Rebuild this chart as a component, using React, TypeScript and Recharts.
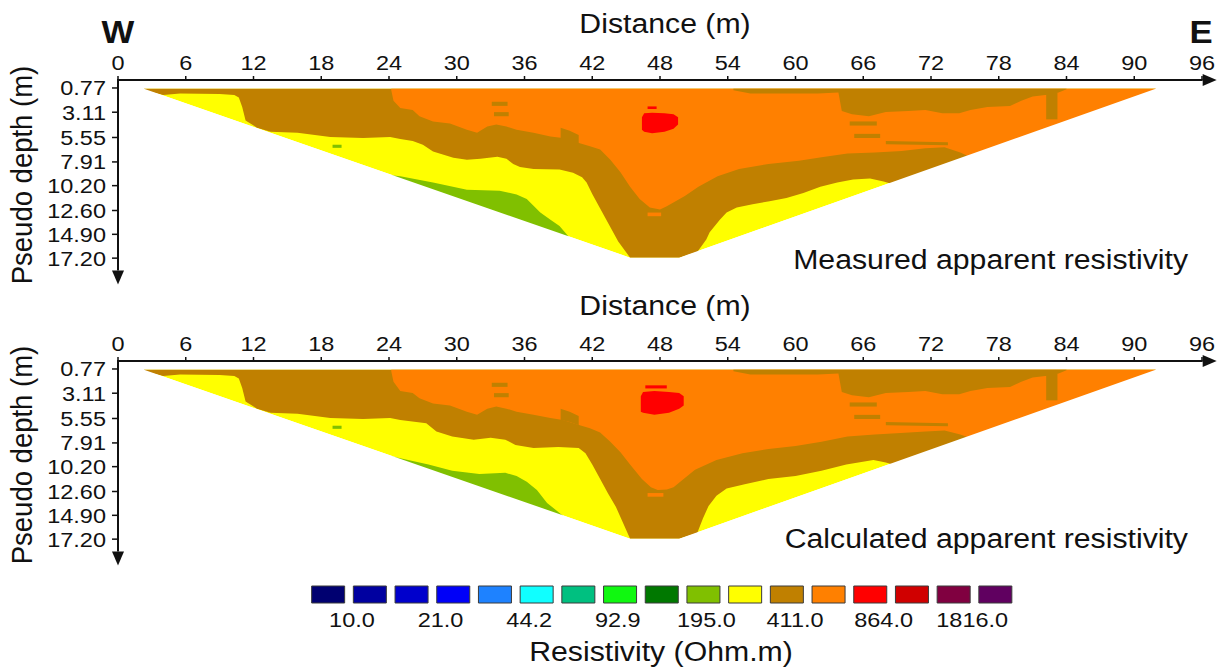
import * as React from 'react';
import { ComposedChart, Area, XAxis, YAxis, ReferenceLine, BarChart, Bar, Cell } from 'recharts';

const FONT = '"Liberation Sans", Arial, Helvetica, sans-serif';
const SX = 1.12; // the picture is a little wider than tall, so glyphs get stretched
const INK = '#111';

const YELLOW = '#ffff00';
const GREEN = '#80c000';
const BROWN = '#c08000';
const ORANGE = '#ff8000';
const RED = '#ff0000';

const distanceTicks = [0, 6, 12, 18, 24, 30, 36, 42, 48, 54, 60, 66, 72, 78, 84, 90, 96];
const depthTicks = [0.77, 3.11, 5.55, 7.91, 10.2, 12.6, 14.9, 17.2];

const legendColors = [
  '#000070', '#0000a0', '#0000cc', '#0000f8', '#1e82ff', '#10ffff', '#00c080', '#10f810', '#007800',
  '#80c000', '#ffff00', '#c08000', '#ff8000', '#ff0000', '#d00000', '#800040', '#600060',
];
const legendLabels = ['10.0', '21.0', '44.2', '92.9', '195.0', '411.0', '864.0', '1816.0'];
const legendTicks = [1, 3, 5, 7, 9, 11, 13, 15];

const SURFACE = 0.85;
const FLOOR = 19.6;

// outline of the pseudosection [x, top, bottom]
const outline = [[2.3, 0.85, 0.85], [45.35, 0.85, 17.15], [49.7, 0.85, 17.15], [91.9, 0.85, 0.85]];
const outsideMask = [
  [0.4, 0.85, 19.6], [2.3, 0.85, 19.6], [45.35, 17.15, 19.6], [49.7, 17.15, 19.6], [91.9, 0.85, 19.6], [95, 0.85, 19.6],
];

// measured: lower edge of brown (top of yellow), [x, depth]
const measuredBrown = [
  [2.3, 1.0], [4.0, 1.45], [5.5, 1.3], [9.0, 1.35], [10.3, 1.45], [10.7, 1.7], [11.0, 2.6], [11.3, 3.9],
  [12.3, 4.6], [13.5, 5.0], [15.9, 5.1], [18.8, 5.5], [21.7, 5.6], [24.1, 5.5], [25.0, 5.7], [26.1, 5.9],
  [27.0, 6.25], [27.9, 6.9], [29.7, 7.5], [30.9, 7.7], [32.1, 7.6], [33.6, 7.4], [34.4, 7.6], [35.0, 8.1],
  [35.6, 8.4], [36.8, 8.6], [39.1, 8.65], [40.3, 8.95], [41.1, 9.4], [41.5, 9.9], [42.0, 11.0], [42.7, 12.4],
  [43.5, 14.0], [44.3, 15.6], [45.35, 17.15], [49.7, 17.15], [51.3, 16.6], [52.1, 15.4], [52.4, 14.7],
  [53.3, 13.5], [53.9, 12.8], [54.8, 12.3], [56.2, 12.0], [57.7, 11.7], [59.2, 11.4], [60.7, 10.9],
  [62.2, 10.3], [63.7, 9.9], [65.1, 9.6], [66.6, 9.5], [67.8, 9.8], [68.4, 10.0], [68.5, 17.2], [91.9, 17.2],
];
// measured: lower edge of orange
const measuredOrange = [
  [24.2, 1.0], [24.4, 2.0], [25.0, 2.7], [26.1, 2.9], [26.7, 3.5], [27.9, 4.0], [29.4, 4.2], [30.9, 4.8],
  [31.8, 5.1], [32.7, 4.5], [33.5, 4.3], [34.4, 4.5], [35.3, 4.8], [36.8, 5.1], [38.3, 5.45], [39.4, 5.6],
  [40.9, 6.1], [41.8, 6.4], [42.7, 6.7], [43.6, 7.7], [44.5, 8.9], [45.35, 10.3], [46.2, 11.5], [47.1, 12.3],
  [48.0, 12.5], [48.6, 12.2], [50.2, 11.2], [51.4, 10.3], [53.1, 9.3], [55.0, 8.6], [57.6, 8.1], [60.3, 7.8],
  [62.3, 7.45], [64.6, 7.1], [67.0, 7.0], [69.4, 6.85], [71.5, 6.6], [73.2, 6.5], [74.6, 7.0], [75.4, 7.4],
  [75.6, 17.2], [91.9, 17.2],
];
// measured: upper edge of green
const measuredGreen = [
  [24.2, 9.2], [25.0, 9.3], [27.9, 9.9], [30.9, 10.6], [33.8, 10.7], [35.3, 11.05], [36.2, 11.5],
  [37.4, 12.8], [38.3, 13.5], [39.1, 14.1], [39.9, 15.1],
];
const measuredRed = [[46.4, 3.6, 4.8], [46.6, 3.2, 5.0], [47.3, 3.15, 5.15], [48.4, 3.2, 5.0], [49.2, 3.3, 4.7], [49.6, 3.6, 4.3]];
const measuredRedDash = [[46.9, 2.55, 2.8], [47.7, 2.55, 2.8]];
const measuredOrangeDash = [[46.9, 12.8, 13.15], [48.1, 12.8, 13.15]];

// calculated
const calculatedBrown = [
  [2.3, 1.0], [4.0, 1.45], [5.5, 1.3], [9.0, 1.35], [10.3, 1.45], [10.7, 1.7], [11.0, 2.6], [11.3, 3.9],
  [12.3, 4.6], [13.5, 5.0], [15.9, 5.1], [18.8, 5.5], [21.7, 5.6], [24.1, 5.5], [25.0, 5.7], [27.3, 6.0],
  [28.2, 6.8], [29.6, 7.3], [31.5, 7.6], [33.0, 7.4], [34.3, 7.6], [35.2, 8.1], [36.8, 8.4], [39.0, 8.3],
  [40.8, 8.4], [41.4, 8.9], [42.0, 10.0], [42.7, 11.4], [43.4, 12.8], [44.1, 14.1], [44.8, 15.8],
  [45.35, 17.15], [49.7, 17.15], [51.3, 16.6], [51.8, 15.2], [52.3, 14.0], [53.0, 13.0], [53.9, 12.3],
  [55.5, 11.9], [57.6, 11.4], [60.0, 11.1], [62.3, 10.6], [64.5, 10.0], [66.9, 9.55], [68.0, 9.8],
  [68.6, 10.0], [68.7, 17.2], [91.9, 17.2],
];
const calculatedOrange = [
  [24.2, 1.0], [24.4, 2.0], [25.0, 2.9], [26.1, 3.1], [26.7, 3.6], [27.9, 4.1], [29.4, 4.3], [30.9, 4.9],
  [31.8, 5.2], [32.7, 4.6], [33.5, 4.4], [34.4, 4.6], [35.3, 4.9], [36.8, 5.2], [38.3, 5.5], [39.4, 5.7],
  [40.9, 6.2], [41.8, 6.5], [42.7, 6.9], [43.6, 7.8], [44.5, 8.8], [45.35, 10.0], [46.4, 11.4], [47.2, 12.2],
  [47.8, 12.45], [48.6, 12.4], [49.2, 12.2], [50.2, 11.3], [51.1, 10.5], [53.0, 9.55], [55.3, 8.9],
  [57.6, 8.5], [60.0, 8.2], [62.3, 7.8], [64.6, 7.3], [67.0, 7.1], [69.3, 6.95], [71.5, 6.8], [73.2, 6.7],
  [74.6, 7.1], [75.4, 7.4], [75.6, 17.2], [91.9, 17.2],
];
const calculatedGreen = [
  [24.2, 9.2], [25.0, 9.4], [27.5, 10.0], [29.6, 10.6], [32.0, 10.9], [34.3, 10.8], [35.3, 11.1],
  [36.2, 11.65], [37.1, 12.45], [38.0, 13.7], [39.7, 15.2],
];
const calculatedRed = [[46.3, 3.4, 4.9], [46.5, 3.0, 5.0], [47.5, 2.9, 5.2], [48.8, 3.0, 5.0], [49.7, 3.1, 4.6], [50.1, 3.4, 4.3]];
const calculatedRedDash = [[46.7, 2.35, 2.65], [48.6, 2.35, 2.65]];
const calculatedOrangeDash = [[46.9, 12.75, 13.1], [48.3, 12.75, 13.1]];

// brown bits inside the orange, same in both sections [x, top, bottom]
const greenDot = [[19.0, 6.25, 6.55], [19.8, 6.25, 6.55]];
const topRightBrown = [
  [54.5, 0.85, 1.0], [56.0, 0.85, 1.3], [62.0, 0.85, 1.3], [63.8, 0.85, 1.2], [64.1, 0.85, 3.0],
  [65.0, 0.85, 3.3], [66.5, 0.85, 3.5], [68.0, 0.85, 3.1], [70.0, 0.85, 3.0], [71.5, 0.85, 2.9],
  [73.0, 0.85, 3.2], [74.5, 0.85, 3.2], [75.5, 0.85, 2.9], [77.0, 0.85, 2.6], [79.0, 0.85, 2.5],
  [80.0, 0.85, 2.0], [81.0, 0.85, 1.6], [82.5, 0.85, 1.4], [83.3, 0.85, 1.2], [84.0, 0.85, 0.9],
];
const brownStreaks = [
  [[82.2, 1.2, 3.8], [83.2, 1.2, 3.8]],
  [[64.8, 4.0, 4.4], [67.2, 4.0, 4.4]],
  [[65.2, 5.2, 5.6], [67.5, 5.2, 5.6]],
  [[33.1, 2.1, 2.5], [34.5, 2.1, 2.5]],
  [[33.3, 3.1, 3.5], [34.6, 3.1, 3.5]],
  [[39.2, 4.6, 5.7], [40.0, 4.9, 5.9], [40.8, 5.3, 6.2]],
  [[68.0, 5.9, 6.2], [73.5, 6.0, 6.3]],
];

const fromSurface = (edge: number[][]) => edge.map(([x, d]) => ({ x, band: [SURFACE, d] }));
const toFloor = (edge: number[][]) => edge.map(([x, d]) => ({ x, band: [d, FLOOR] }));
const patch = (pts: number[][]) => pts.map(([x, a, b]) => ({ x, band: [a, b] }));

function DistanceTick({ x, y, payload }: any) {
  return (
    <text transform={`translate(${x},${y - 6}) scale(${SX},1)`} textAnchor="middle" fontSize={21} fontFamily={FONT} fill={INK}>
      {payload.value}
    </text>
  );
}

function DepthTick({ x, y, payload }: any) {
  return (
    <text transform={`translate(${x},${y + 7.5}) scale(${SX},1)`} textAnchor="end" fontSize={21} fontFamily={FONT} fill={INK}>
      {Number(payload.value).toFixed(2)}
    </text>
  );
}

function LegendTick({ x, y, payload }: any) {
  return (
    <text transform={`translate(${x},${y - 6}) scale(${SX},1)`} textAnchor="middle" fontSize={21} fontFamily={FONT} fill={INK}>
      {legendLabels[(payload.value - 1) / 2]}
    </text>
  );
}

function Arrow(props: any) {
  const { x1, y1, x2, y2 } = props;
  const len = Math.hypot(x2 - x1, y2 - y1) || 1;
  const ux = (x2 - x1) / len;
  const uy = (y2 - y1) / len;
  const head = 14;
  const half = 6;
  const bx = x2 - ux * head;
  const by = y2 - uy * head;
  return (
    <g>
      <line x1={x1 - ux} y1={y1 - uy} x2={bx} y2={by} stroke={INK} strokeWidth={2} />
      <polygon points={`${x2},${y2} ${bx - uy * half},${by + ux * half} ${bx + uy * half},${by - ux * half}`} fill={INK} />
    </g>
  );
}

function Section({ top, brown, orange, green, red, redDash, orangeDash }: any) {
  const layers = [
    { fill: YELLOW, data: patch(outline) },
    { fill: GREEN, data: toFloor(green) },
    { fill: GREEN, data: patch(greenDot) },
    { fill: BROWN, data: fromSurface(brown) },
    { fill: ORANGE, data: fromSurface(orange) },
    { fill: BROWN, data: patch(topRightBrown) },
    ...brownStreaks.map((s) => ({ fill: BROWN, data: patch(s) })),
    { fill: ORANGE, data: patch(orangeDash) },
    { fill: RED, data: patch(red) },
    { fill: RED, data: patch(redDash) },
    { fill: '#ffffff', data: patch(outsideMask) },
  ];
  return (
    <div style={{ position: 'absolute', left: 0, top, width: 1221, height: 290 }}>
      <ComposedChart width={1221} height={290} margin={{ top: 40, right: 19, bottom: 7, left: 18 }}>
        <XAxis
          dataKey="x"
          type="number"
          orientation="top"
          domain={[0, 96]}
          ticks={distanceTicks}
          allowDataOverflow
          height={40}
          axisLine={false}
          tickSize={4}
          tickMargin={0}
          tickLine={{ stroke: INK, strokeWidth: 1.5 }}
          tick={<DistanceTick />}
        />
        <YAxis
          type="number"
          reversed
          domain={[0, FLOOR]}
          ticks={depthTicks}
          allowDataOverflow
          width={100}
          axisLine={false}
          tickSize={6}
          tickMargin={6}
          tickLine={{ stroke: INK, strokeWidth: 1.5 }}
          tick={<DepthTick />}
        />
        {layers.map((l, i) => (
          <Area
            key={i}
            data={l.data}
            dataKey="band"
            type="linear"
            stroke="none"
            fill={l.fill}
            fillOpacity={1}
            dot={false}
            activeDot={false}
            isAnimationActive={false}
          />
        ))}
        <ReferenceLine segment={[{ x: 0, y: 0 }, { x: 97.3, y: 0 }]} ifOverflow="visible" shape={Arrow} />
        <ReferenceLine segment={[{ x: 0, y: 0 }, { x: 0, y: 19.75 }]} ifOverflow="visible" shape={Arrow} />
      </ComposedChart>
    </div>
  );
}

function ColorScale() {
  const data = legendColors.map((c, i) => ({ key: i, v: 1 }));
  return (
    <div style={{ position: 'absolute', left: 0, top: 576, width: 1221, height: 93 }}>
      <BarChart width={1221} height={93} data={data} margin={{ top: 10, right: 204.45, bottom: 36, left: 307.65 }}>
        <XAxis xAxisId="cat" dataKey="key" type="category" hide />
        <XAxis
          xAxisId="num"
          type="number"
          domain={[0, 17]}
          ticks={legendTicks}
          height={30}
          axisLine={false}
          tickLine={false}
          tickSize={0}
          tickMargin={0}
          tick={<LegendTick />}
        />
        <YAxis hide domain={[0, 1]} />
        <Bar xAxisId="cat" dataKey="v" barSize={33} stroke="#3a3a3a" strokeWidth={1} isAnimationActive={false}>
          {legendColors.map((c, i) => (
            <Cell key={i} fill={c} />
          ))}
        </Bar>
      </BarChart>
    </div>
  );
}

function Label({ x, y, size = 27, anchor = 'middle', bold = false, children }: any) {
  return (
    <text
      transform={`translate(${x},${y}) scale(${SX},1)`}
      textAnchor={anchor}
      fontSize={size}
      fontWeight={bold ? 'bold' : 'normal'}
      fontFamily={FONT}
      fill={INK}
    >
      {children}
    </text>
  );
}

function DepthTitle({ y }: { y: number }) {
  return (
    <text transform={`translate(32,${y}) rotate(-90) scale(1,1.05)`} textAnchor="middle" fontSize={27.5} fontFamily={FONT} fill={INK}>
      Pseudo depth (m)
    </text>
  );
}

export default function App() {
  return (
    <div style={{ position: 'absolute', left: 0, top: 0, width: 1221, height: 669, background: '#fff', overflow: 'hidden' }}>
      <Section top={0} brown={measuredBrown} orange={measuredOrange} green={measuredGreen} red={measuredRed} redDash={measuredRedDash} orangeDash={measuredOrangeDash} />
      <Section top={281} brown={calculatedBrown} orange={calculatedOrange} green={calculatedGreen} red={calculatedRed} redDash={calculatedRedDash} orangeDash={calculatedOrangeDash} />
      <ColorScale />
      <svg width={1221} height={669} style={{ position: 'absolute', left: 0, top: 0, pointerEvents: 'none' }}>
        <Label x={118} y={43} size={31} bold>W</Label>
        <Label x={1201} y={43} size={31} bold>E</Label>
        <Label x={665} y={33}>Distance (m)</Label>
        <Label x={665} y={315}>Distance (m)</Label>
        <DepthTitle y={175} />
        <DepthTitle y={455} />
        <Label x={1188} y={269} anchor="end">Measured apparent resistivity</Label>
        <Label x={1188} y={548} anchor="end">Calculated apparent resistivity</Label>
        <Label x={661} y={661}>Resistivity (Ohm.m)</Label>
      </svg>
    </div>
  );
}
